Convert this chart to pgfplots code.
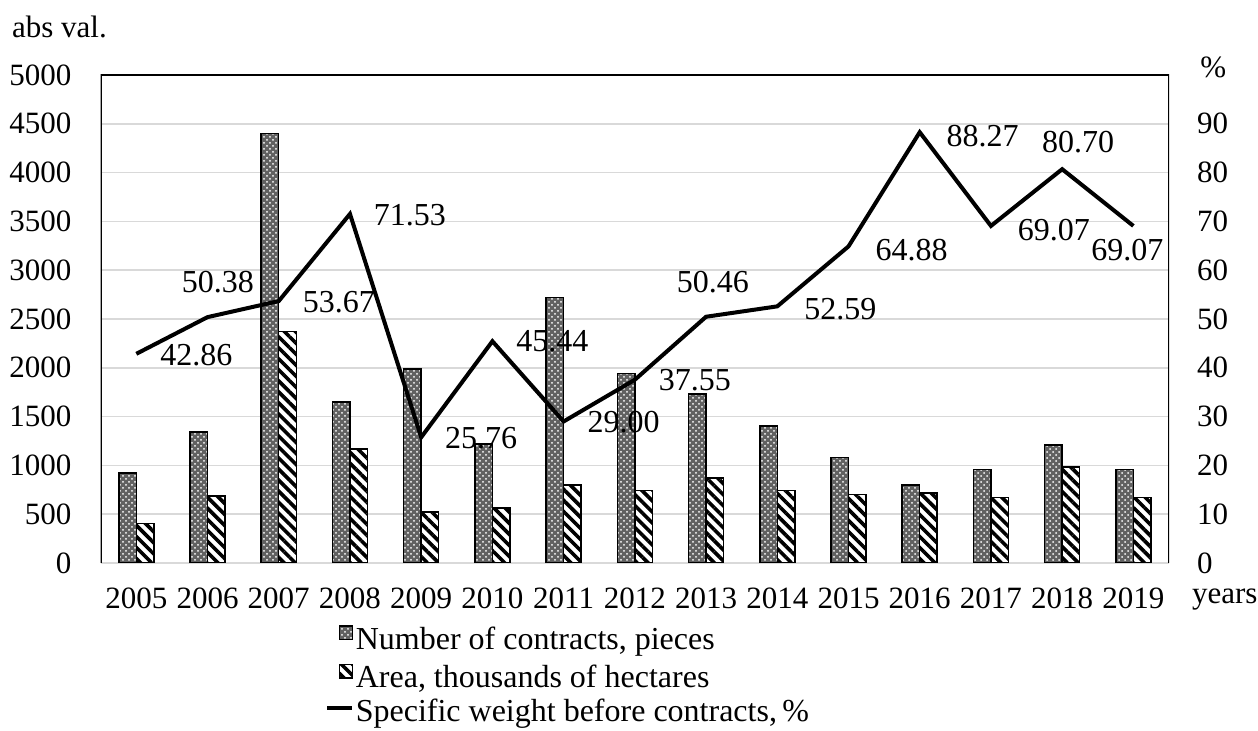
\documentclass[border=0pt]{standalone}
\usepackage{fontspec}
\setmainfont{Liberation Serif}
\usepackage{pgfplots}
\pgfplotsset{compat=1.18}
\usepackage{pgfplotstable}
\usetikzlibrary{patterns,patterns.meta}

% contracts (pieces) and area (thousand ha) per year
\pgfplotstableread{
idx contracts area
0   920  405
1   1340 685
2   4400 2370
3   1650 1170
4   1990 520
5   1220 565
6   2720 800
7   1944 745
8   1732 870
9   1404 745
10  1079 700
11  800  715
12  960  670
13  1210 985
14  960  670
}\bardata

% specific weight (%) with label offsets in pt
\pgfplotstableread{
idx share dx    dy
0   42.86 30    -0.5
1   50.38 5.2   17.7
2   53.67 30    -0.6
3   71.53 30    -0.8
4   25.76 30    -0.5
5   45.44 30    0
6   29.00 30    -0.2
7   37.55 30    -0.2
8   50.46 3.4   17.5
9   52.59 31.5  -1.3
10  64.88 31.5  -1.8
11  88.27 31.5  -2
12  69.07 31.5  -2
13  80.70 8     13.75
14  69.07 -3    -12
}\sharedata

\newcommand{\tickfont}{\fontsize{15.5}{18}\selectfont}
\newcommand{\labfont}{\fontsize{16}{19}\selectfont}

\tikzset{
  dotbar/.style={draw=black, line width=0.75pt, fill=black!62,
    postaction={pattern=crosshatch dots, pattern color=white}},
  hatchbar/.style={draw=black, line width=0.75pt, fill=white,
    postaction={pattern={Lines[angle=-45,distance=3.9pt,line width=1.8pt]}}},
}

\pgfplotsset{
  common/.style={
    scale only axis, width=534.15pt, height=244pt,
    xmin=-0.5, xmax=14.5,
    axis line style={draw=none},
    major tick length=0pt, minor tick length=0pt,
    /pgf/number format/assume math mode=true,
    /pgf/number format/1000 sep={},
    ticklabel style={font=\tickfont},
  },
  squarelegend/.style={legend image code/.code={\draw[##1] (0pt,1.4pt) rectangle (6.5pt,8.2pt);}},
  linelegend/.style={legend image code/.code={\draw[##1] (-6pt,3.5pt) -- (6.5pt,3.5pt);}},
}

\begin{document}
\begin{tikzpicture}[font=\tickfont]
\begin{axis}[common,
  ymin=0, ymax=5000, ytick={0,500,...,5000},
  ymajorgrids, grid style={draw=black!15, line width=0.75pt},
  xtick={0,...,14},
  xticklabels={2005,2006,2007,2008,2009,2010,2011,2012,2013,2014,2015,2016,2017,2018,2019},
  xticklabel style={inner sep=0pt, anchor=north}, xticklabel shift=12pt,
  yticklabel style={inner sep=0pt, anchor=east}, yticklabel shift=14.5pt,
  ybar=0pt, bar width=8.75pt,
]
\addplot[dotbar, bar shift=-4.375pt] table[x=idx,y=contracts]{\bardata};
\addplot[hatchbar, bar shift=4.375pt] table[x=idx,y=area]{\bardata};
\end{axis}

\begin{axis}[common,
  ymin=0, ymax=100, ytick={0,10,...,90},
  axis y line*=right, axis x line=none,
  yticklabel style={inner sep=0pt, anchor=west}, yticklabel shift=13.85pt,
  legend cell align=left,
  legend style={draw=none, fill=none, inner sep=0pt,
    at={(0.2099,-0.127)}, anchor=north west,
    row sep=3.75pt, column sep=0.75pt, font=\labfont,
    nodes={inner sep=0pt, text height=10pt, text depth=3.5pt}},
]
\addlegendimage{dotbar, squarelegend}
\addlegendentry{Number of contracts, pieces}
\addlegendimage{hatchbar, squarelegend}
\addlegendentry{Area, thousands of hectares}
\addplot[black, line width=2pt, mark=none, linelegend,
  point meta=y,
  nodes near coords={\pgfmathprintnumber[fixed,fixed zerofill,precision=2]{\pgfplotspointmeta}},
  visualization depends on={\thisrow{dx}\as\labdx},
  visualization depends on={\thisrow{dy}\as\labdy},
  every node near coord/.append style={anchor=center, inner sep=0pt,
    xshift=\labdx pt, yshift=\labdy pt, font=\labfont, text=black},
] table[x=idx,y=share]{\sharedata};
\addlegendentry{Specific weight before contracts,\,\%}
\draw[black, line width=0.8pt] (rel axis cs:0,0) -- (rel axis cs:0,1)
  -- (rel axis cs:1,1) -- (rel axis cs:1,0);
\end{axis}

\node[anchor=base west, inner sep=0pt] at (-44.5pt,262.65pt) {abs val.};
\node[anchor=base west, inner sep=0pt] at (549.65pt,242.5pt) {\%};
\node[anchor=base west, inner sep=0pt] at (545.5pt,-20.15pt) {years};

\pgfresetboundingbox
\path[use as bounding box] (-50.35pt,-84pt) rectangle (578.65pt,281.5pt);
\end{tikzpicture}
\end{document}
